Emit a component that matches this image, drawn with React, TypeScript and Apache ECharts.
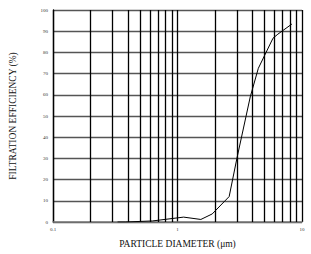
import React, { useEffect, useRef } from "react";
import * as echarts from "echarts";

const diameters = [0.33, 0.38, 0.63, 1.12, 1.54, 1.9, 2.6, 3.0, 3.84, 4.46, 5.85, 6.4, 8.3];
const efficiency = [0, 0, 0.5, 2.3, 1.2, 3.8, 12, 30, 59, 72.5, 86.7, 88.6, 93.4];
const minorGrid = [0.2, 0.3, 0.4, 0.5, 0.6, 0.7, 0.8, 0.9, 2, 3, 4, 5, 6, 7, 8, 9];
const xTitle = "PARTICLE DIAMETER (\u03bcm)";
const yTitle = "FILTRATION EFFICIENCY (%)";

export default function App() {
  const ref = useRef<HTMLDivElement>(null);
  useEffect(() => {
    if (!ref.current) return;
    const chart = echarts.init(ref.current, null, { renderer: "svg" });
    const serif = "Liberation Serif";
    chart.setOption({
      animation: false,
      backgroundColor: "#fff",
      grid: { left: 48, right: 9, top: 10, bottom: 24 },
      xAxis: {
        type: "log",
        logBase: 10,
        min: 0.1,
        max: 10,
        name: xTitle,
        nameLocation: "middle",
        nameGap: 17,
        nameTextStyle: { fontFamily: serif, fontSize: 9.5, color: "#111" },
        axisLine: { show: true, lineStyle: { color: "#777", width: 1.5 } },
        axisTick: { show: false },
        axisLabel: {
          fontFamily: serif,
          fontSize: 5,
          color: "#333",
          margin: 5,
          formatter: (v: number) => String(v),
        },
        splitLine: { show: true, lineStyle: { color: "#000", width: 1.3 } },
        minorSplitLine: { show: false },
      },
      yAxis: {
        type: "value",
        min: 0,
        max: 100,
        interval: 10,
        name: yTitle,
        nameLocation: "middle",
        nameGap: 35,
        nameTextStyle: { fontFamily: serif, fontSize: 9.5, color: "#111" },
        axisLine: { show: true, lineStyle: { color: "#000", width: 1.3 } },
        axisTick: { show: false },
        axisLabel: { fontFamily: serif, fontSize: 5, color: "#333", margin: 5 },
        splitLine: { show: true, lineStyle: { color: "#555", width: 1.3 } },
      },
      series: [
        {
          type: "line",
          data: diameters.map((d, i) => [d, efficiency[i]]),
          showSymbol: false,
          symbol: "none",
          lineStyle: { color: "#000", width: 1 },
          z: 5,
          markLine: {
            silent: true,
            symbol: "none",
            label: { show: false },
            lineStyle: { color: "#000", width: 1.3, type: "solid" },
            data: minorGrid.map((v) => ({ xAxis: v })),
            z: 2,
          },
        },
      ],
    });
    return () => chart.dispose();
  }, []);
  return (
    <div
      ref={ref}
      style={{ position: "fixed", left: 0, top: 0, width: 311, height: 254 }}
    />
  );
}
